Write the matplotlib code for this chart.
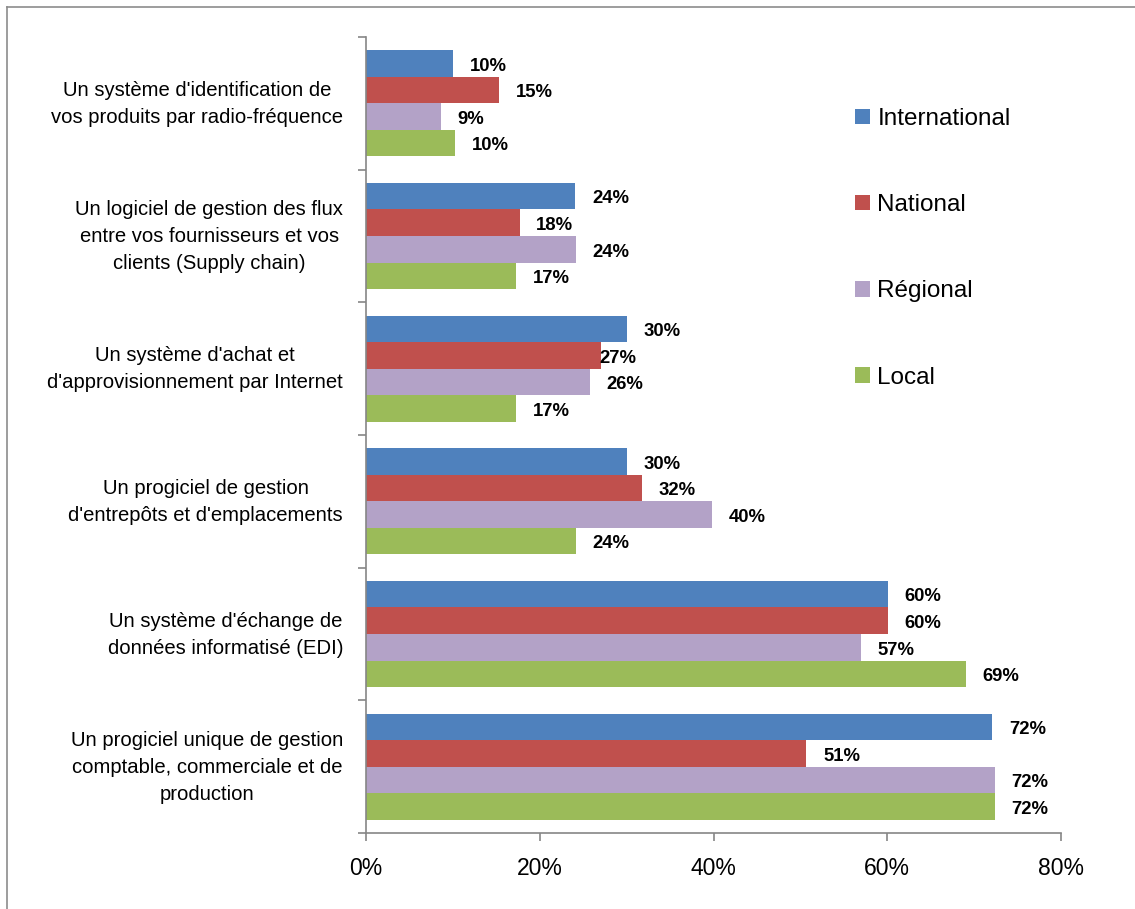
import matplotlib
matplotlib.use('Agg')
import matplotlib.pyplot as plt
from matplotlib.patches import Patch
from matplotlib.lines import Line2D
import numpy as np

# Chart data (percentages)
categories = [
    "Un système d'identification de\nvos produits par radio-fréquence",
    "Un logiciel de gestion des flux\nentre vos fournisseurs et vos\nclients (Supply chain)",
    "Un système d'achat et\nd'approvisionnement par Internet",
    "Un progiciel de gestion\nd'entrepôts et d'emplacements",
    "Un système d'échange de\ndonnées informatisé (EDI)",
    "Un progiciel unique de gestion\ncomptable, commerciale et de\nproduction",
]
series_names = ['International', 'National', 'Régional', 'Local']
international = [10.0, 24.1, 30.0, 30.0, 60.1, 72.1]
national = [15.3, 17.7, 27.1, 31.8, 60.1, 50.7]
regional = [8.6, 24.2, 25.8, 39.8, 57.0, 72.4]
local = [10.3, 17.3, 17.3, 24.2, 69.1, 72.4]
x_ticks = [0, 20, 40, 60, 80]

colors = ['#4F81BD', '#C0504D', '#B3A2C7', '#9BBB59']
axis_color = '#868686'

plt.rcParams['font.family'] = ['Liberation Sans', 'DejaVu Sans']

W, H = 1135, 909
fig = plt.figure(figsize=(W / 100, H / 100), dpi=100)
ax = fig.add_axes([366 / W, 1 - 833 / H, (1061 - 366) / W, (833 - 37) / H])

y = np.arange(len(categories))
bar_h = 0.2
all_series = [international, national, regional, local]

for k, (vals, name, col) in enumerate(zip(all_series, series_names, colors)):
    pos = y - 0.3 + k * bar_h
    ax.barh(pos, vals, height=bar_h, color=col, label=name, zorder=2)
    for i, (p, v) in enumerate(zip(pos, vals)):
        dx = 11.9
        if (i, k) == (2, 1):  # this label sits against the bar in the original
            dx = -1.5
        ax.annotate(f'{v:.0f}%', xy=(v, p), xytext=(dx, -2),
                    textcoords='offset points', ha='left', va='center',
                    fontsize=13.3, fontweight='bold', color='black')

ax.set_xlim(0, 80)
ax.set_ylim(len(categories) - 0.5, -0.5)

ax.set_xticks(x_ticks)
ax.set_xticklabels([f'{t}%' for t in x_ticks], fontsize=16.5)
ax.tick_params(axis='x', direction='out', length=6, width=1.2,
               color=axis_color, pad=11)

# category labels: centred blocks, right edge just left of the axis
ax.set_yticks(y)
ax.set_yticklabels([])
ax.tick_params(axis='y', which='major', length=0)
for yi, cat in zip(y, categories):
    ax.annotate(cat, xy=(0, yi), xycoords=('axes fraction', 'data'),
                xytext=(-16.5, -0.5), textcoords='offset points',
                ha='right', va='center', multialignment='center',
                linespacing=1.55, fontsize=14.6)
ax.set_yticks(np.arange(-0.5, len(categories)), minor=True)
ax.tick_params(axis='y', which='minor', direction='out', length=6,
               width=1.2, color=axis_color)

for side in ['top', 'right']:
    ax.spines[side].set_visible(False)
for side in ['left', 'bottom']:
    ax.spines[side].set_color(axis_color)
    ax.spines[side].set_linewidth(1.2)

# Legend on the right
handles = [Patch(facecolor=c, edgecolor='none') for c in colors]
fig.legend(handles, series_names, loc='upper left',
           bbox_to_anchor=(855 / W, 1 - 108 / H), frameon=False,
           fontsize=17.5, borderpad=0, borderaxespad=0,
           handlelength=0.62, handleheight=0.62, handletextpad=0.3,
           labelspacing=2.64)

# Thin outer chart border (left and top only visible)
fig.add_artist(Line2D([7 / W, 7 / W], [0, 1 - 7 / H], transform=fig.transFigure,
                      color='#8C8C8C', linewidth=1.2))
fig.add_artist(Line2D([7 / W, 1], [1 - 7 / H, 1 - 7 / H], transform=fig.transFigure,
                      color='#8C8C8C', linewidth=1.2))

plt.savefig('out.png', dpi=100)
